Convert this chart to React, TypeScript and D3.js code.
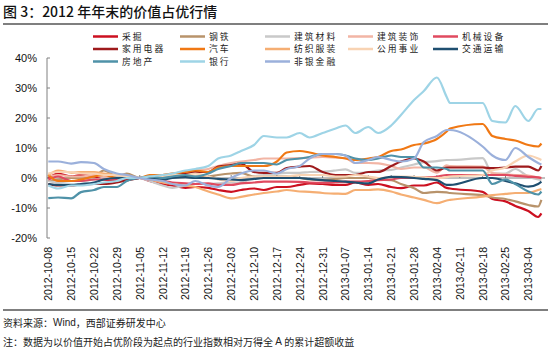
import React from "react";
import * as d3 from "d3";

const dates = ["2012-10-08","2012-10-11","2012-10-15","2012-10-18","2012-10-22","2012-10-25","2012-10-29","2012-11-01","2012-11-05","2012-11-08","2012-11-12","2012-11-15","2012-11-19","2012-11-22","2012-11-26","2012-11-29","2012-12-03","2012-12-06","2012-12-10","2012-12-13","2012-12-17","2012-12-20","2012-12-24","2012-12-27","2012-12-31","2013-01-04","2013-01-07","2013-01-10","2013-01-14","2013-01-17","2013-01-21","2013-01-24","2013-01-28","2013-01-31","2013-02-04","2013-02-07","2013-02-08","2013-02-18","2013-02-21","2013-02-25","2013-02-28","2013-03-04","2013-03-07","2013-03-08"];

const tickDates = ["2012-10-08","2012-10-15","2012-10-22","2012-10-29","2012-11-05","2012-11-12","2012-11-19","2012-11-26","2012-12-03","2012-12-10","2012-12-17","2012-12-24","2012-12-31","2013-01-07","2013-01-14","2013-01-21","2013-01-28","2013-02-04","2013-02-11","2013-02-18","2013-02-25","2013-03-04"];

const yTicks = [40, 30, 20, 10, 0, -10, -20];

const mining = [0,1.5,0.5,1,0.5,-0.5,-1,-0.5,0,-1,-2,-2.5,-3.3,-3,-3.3,-4,-4.6,-4,-3.5,-4,-3,-3,-2.3,-1.8,-2,-2.3,-2.3,-1.5,-2.3,-2,-3,-3.4,-2.5,-2.5,-1.5,-3.3,-3.5,-4.6,-7,-7.8,-9.3,-11,-13,-11.8];
const steel = [-1,-0.5,0,0,0.5,2.5,0.5,1.5,0,0.5,0.5,1,0.5,0.5,0.5,1,1.5,1.7,0.5,0.5,0.5,0.5,0,-0.5,-0.7,-0.3,0,0,0,-0.5,-0.7,-2,-3.4,-5,-4.6,-4.8,-5,-5.7,-6.5,-7,-7.8,-9,-9.5,-7.3];
const buildMat = [-1,-1.5,-1,-1,-0.5,0,0.5,0.3,0,-1,-2.5,-3.3,-2.5,-2,-2,-1.8,-1.5,-1.5,0.5,1,1.5,1.7,1.7,2,2.1,2.5,2.9,1.7,2,2.5,2.7,3.5,4.5,5.3,5.6,6,6,6.6,1.5,1.5,3,0.5,-0.5,-0.7];
const buildDeco = [0.5,1,0.5,0.5,1,0.5,0,0,0,0.5,1,1.5,2,2.5,3,4,5,5.5,6,6.5,6.5,6.5,6.6,6.8,7,6.8,6.6,5,5,4.9,4,3,3.5,3.5,1.8,4.2,4,3.8,1.6,1.2,1,0.8,0.2,0];
const machinery = [-0.5,0.5,-1,-1,-0.5,-0.5,-0.5,-0.5,0,-0.5,-1,-1.5,-1.8,-2,-1.8,-2.3,-2.3,-1.8,-1.5,-1.2,-1.2,-1.2,-1.3,-1.5,-1.6,-1.4,-1.2,-1.2,-1,-0.7,-0.5,0,0,0.2,0.4,1,1,1,1,1,0.7,0.4,0.2,0];
const appliance = [-2,-2.5,-2.5,-2.2,-2,-2,-1.5,-0.8,0,0.5,1,1,1.5,2,2,3.8,4.3,4.8,2,1.7,1.7,3.3,3.8,4,2,1,1,1,2,2,4,5.5,6.5,5.5,2.5,3.5,3.5,3.5,3.3,3.5,3.8,3.8,2.5,4];
const auto = [1,-1,-1,-0.5,0.5,1,0,0,0,1,1,1.5,2,2.5,2,3.5,4,4,4,4,5.5,8.5,9,8.5,7.5,7,6.5,6,6.5,7,9,9.5,11,11.5,13,15.5,16.5,18,14,13,12.5,11,10.5,11.5];
const textile = [1,2.5,1.8,2,2,1.5,1,0.5,0,-0.5,-1.5,-2,-2.5,-3,-4.5,-5.5,-6.8,-6.3,-5.5,-5,-4.5,-4,-4.5,-4.6,-5,-5.2,-5.3,-4,-4,-3.8,-4.5,-5.5,-6.5,-7.3,-8.4,-7.5,-7.3,-6.2,-5.7,-5.3,-5,-5,-4,-3.7];
const utilities = [1.5,2,2,1.5,1.5,1,1,0.5,0,0.5,0.5,1,1,1.5,0.5,-0.5,-1,0,0.5,0.5,0.3,0.5,1,1,1,0.5,0.5,1,0.5,0,0.3,0.5,0.4,0.2,0,0.3,0.5,1,2.5,3.5,5.5,7.5,6.5,6];
const transport = [-2,-2.3,-2.3,-2,-1.5,-0.5,0,0,0,0,-0.5,0,0.3,0,0,-0.3,-0.5,-0.7,-0.3,0,0,0,0,-0.3,-0.7,-1,-1.2,-1.5,-1.8,-0.5,0.4,0.3,0,-0.3,-0.7,-2.3,-2.3,0,0,-1,-1.8,-2.9,-2,-1.2];
const realEstate = [-6.7,-6.5,-6.8,-4.7,-4,-3,-3,-1,0,0.5,0,0.5,1,0.5,1.5,3,4,5,5,5,4.5,6,6.5,7,8,8,7.5,6.5,6,6.5,7.5,7,7,3.5,3.5,3,2.5,2.5,-2,-0.5,-2,-4.5,-5.5,-4.5];
const bank = [-2.5,-3.5,-2.5,-2.5,-2,-1.5,-1,0,0,0.5,1,1.5,2.5,3,4,6.5,7.5,9,11,14,13.5,13.5,15,13.5,15,16.5,17.5,15,17,15,17.5,21,26,29,33.5,27,25,25,19,18.5,24,19,23,23];
const nonBank = [5.5,5.5,4.8,5.3,5,3,1.5,1,0,-0.5,-1,-2,-2.5,-1,-2.5,-3,0,1.5,2.5,2.5,1.5,3,4,6.5,8,8,7.5,5,6,7,6,5.5,6.5,12,14,16,16,10.5,7.5,6,10,7,5,4.5];

const seriesNames = ["采掘","钢铁","建筑材料","建筑装饰","机械设备","家用电器","汽车","纺织服装","公用事业","交通运输","房地产","银行","非银金融"];
const seriesValues = [mining, steel, buildMat, buildDeco, machinery, appliance, auto, textile, utilities, transport, realEstate, bank, nonBank];
const seriesColors = ["#CC1020","#B8936B","#C9C9C9","#F2B5A5","#E04A5F","#9E1A1C","#F07814","#F5AE73","#F8D3B3","#1F4F70","#4F92A8","#9ED4E6","#9BB0DB"];

const W = 550, H = 351;
const CJK = "'Noto Sans CJK SC', sans-serif";
const LAT = "'Liberation Sans', Arial, sans-serif";

export default function App() {
  const parse = d3.timeParse("%Y-%m-%d");
  const xs = dates.map((d) => parse(d) as Date);
  const x = d3.scaleTime().domain([xs[0], xs[xs.length - 1]]).range([48.3, 541.4]);
  const y = d3.scaleLinear().domain([-20, 40]).range([238, 58]);
  const line = d3.line<number>()
    .x((_, i) => x(xs[i]))
    .y((v) => y(v))
    .curve(d3.curveMonotoneX);

  const legendCols = [93, 180, 265, 348, 433];
  const legendRows = [36.5, 49, 61.5];

  return (
    <svg width={W} height={H} style={{ position: "absolute", left: 0, top: 0, background: "#fff" }}>
      <text x={3} y={17} fontFamily={CJK} fontSize={14} fontWeight={500} fill="#111">图 3：2012 年年末的价值占优行情</text>
      <line x1={3} x2={548} y1={24} y2={24} stroke="#7f7f7f" strokeWidth={2} />

      {seriesNames.map((n, i) => {
        const cx = legendCols[i % 5];
        const cy = legendRows[Math.floor(i / 5)];
        return (
          <g key={n}>
            <line x1={cx} x2={cx + 25} y1={cy} y2={cy} stroke={seriesColors[i]} strokeWidth={2.5} />
            <text x={cx + 29} y={cy + 3.2} fontFamily={CJK} fontSize={8.8} letterSpacing={2} fill="#222">{n}</text>
          </g>
        );
      })}

      {/* y axis */}
      <line x1={47} x2={47} y1={y(40)} y2={y(-20)} stroke="#808080" strokeWidth={1} />
      {yTicks.map((t) => (
        <g key={t}>
          <line x1={47} x2={50} y1={y(t)} y2={y(t)} stroke="#808080" />
          <text x={37} y={y(t)} textAnchor="end" dominantBaseline="central" fontFamily={LAT} fontSize={11} fill="#111">{t + "%"}</text>
        </g>
      ))}

      {/* x axis at zero */}
      <line x1={47} x2={545} y1={y(0)} y2={y(0)} stroke="#808080" strokeWidth={1} />
      {tickDates.map((d) => {
        const tx = x(parse(d) as Date);
        return (
          <g key={d}>
            <line x1={tx} x2={tx} y1={y(0)} y2={y(0) - 3} stroke="#808080" />
            <text transform={`translate(${tx},247) rotate(-90)`} textAnchor="end" dominantBaseline="central" fontFamily={LAT} fontSize={10.5} fill="#111">{d}</text>
          </g>
        );
      })}

      {seriesValues.map((vals, i) => (
        <path key={seriesNames[i]} d={line(vals) || ""} fill="none" stroke={seriesColors[i]} strokeWidth={2.2} strokeLinejoin="round" />
      ))}

      <line x1={3} x2={548} y1={310} y2={310} stroke="#7f7f7f" strokeWidth={2} />
      <text x={3} y={322} dominantBaseline="central" fontFamily={CJK} fontSize={10} fill="#222">资料来源：<tspan fontFamily={LAT}>Wind</tspan>，西部证券研发中心</text>
      <text x={3} y={341} dominantBaseline="central" fontFamily={CJK} fontSize={10} fill="#222">注：数据为以价值开始占优阶段为起点的行业指数相对万得全 <tspan fontFamily={LAT}>A</tspan> 的累计超额收益</text>
    </svg>
  );
}
